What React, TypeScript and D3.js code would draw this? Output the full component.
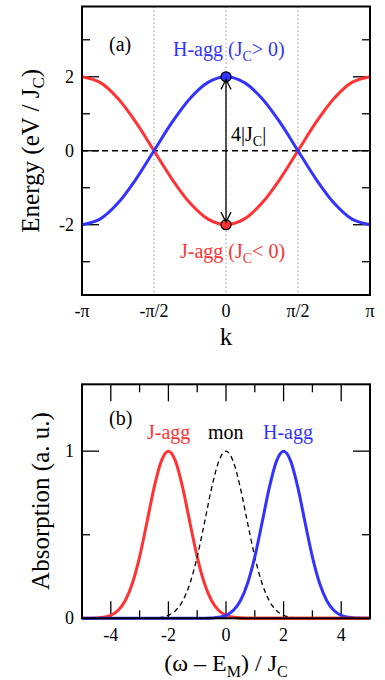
import React from "react";
import * as d3 from "d3";

// ---------- data ----------
const PI = Math.PI;
// k grid for the band plot (step π/8 from -π to π)
const kIndex = [-8, -7, -6, -5, -4, -3, -2, -1, 0, 1, 2, 3, 4, 5, 6, 7, 8];
const hBand = [-2, -1.848, -1.414, -0.765, 0, 0.765, 1.414, 1.848, 2, 1.848, 1.414, 0.765, 0, -0.765, -1.414, -1.848, -2];
const jBand = [2, 1.848, 1.414, 0.765, 0, -0.765, -1.414, -1.848, -2, -1.848, -1.414, -0.765, 0, 0.765, 1.414, 1.848, 2];
const kTickIndex = [-2, -1, 0, 1, 2]; // multiples of π/2
const kTickLabels = ["-π", "-π/2", "0", "π/2", "π"];
const eMajorTicks = [-2, 0, 2];
const eMinorTicks = [-3, -1, 1, 3];

// absorption grid (step 0.25 from -5 to 5)
const wGrid = [
  -5, -4.75, -4.5, -4.25, -4, -3.75, -3.5, -3.25, -3, -2.75, -2.5, -2.25, -2, -1.75, -1.5, -1.25, -1, -0.75, -0.5, -0.25,
  0, 0.25, 0.5, 0.75, 1, 1.25, 1.5, 1.75, 2, 2.25, 2.5, 2.75, 3, 3.25, 3.5, 3.75, 4, 4.25, 4.5, 4.75, 5,
];
const jAbs = [
  0, 0.0005, 0.002, 0.006, 0.018, 0.047, 0.105, 0.21, 0.368, 0.57, 0.779, 0.939, 1, 0.939, 0.779, 0.57, 0.368, 0.21, 0.105, 0.047,
  0.018, 0.006, 0.002, 0.0005, 0, 0, 0, 0, 0, 0, 0, 0, 0, 0, 0, 0, 0, 0, 0, 0, 0,
];
const monAbs = [
  0, 0, 0, 0, 0, 0, 0, 0, 0.0001, 0.0005, 0.002, 0.006, 0.018, 0.047, 0.105, 0.21, 0.368, 0.57, 0.779, 0.939,
  1, 0.939, 0.779, 0.57, 0.368, 0.21, 0.105, 0.047, 0.018, 0.006, 0.002, 0.0005, 0.0001, 0, 0, 0, 0, 0, 0, 0, 0,
];
const hAbs = [
  0, 0, 0, 0, 0, 0, 0, 0, 0, 0, 0, 0, 0, 0, 0, 0, 0, 0.0005, 0.002, 0.006,
  0.018, 0.047, 0.105, 0.21, 0.368, 0.57, 0.779, 0.939, 1, 0.939, 0.779, 0.57, 0.368, 0.21, 0.105, 0.047, 0.018, 0.006, 0.002, 0.0005, 0,
];
const wMajorTicks = [-4, -2, 0, 2, 4];
const wMinorTicks = [-5, -3, -1, 1, 3, 5];
const aMajorTicks = [0, 1];
const aMinorTicks = [0.5];

const RED = "#ff3333";
const BLUE = "#3333ff";
const FONT = "'Liberation Serif', 'Times New Roman', serif";

export default function App() {
  const L = 82, R = 370;
  // panel (a)
  const xa = d3.scaleLinear().domain([-PI, PI]).range([L, R]);
  const ya = d3.scaleLinear().domain([-3.9, 3.9]).range([295, 6.5]);
  // panel (b)
  const xb = d3.scaleLinear().domain([-5, 5]).range([L, R]);
  const yb = d3.scaleLinear().domain([0, 1.4]).range([618.3, 384.3]);

  const bandPts = (vals: number[]) => kIndex.map((i, j) => [(i * PI) / 8, vals[j]] as [number, number]);
  const lineA = d3.line<[number, number]>().x(d => xa(d[0])).y(d => ya(d[1])).curve(d3.curveCatmullRom);
  const absPts = (vals: number[]) => wGrid.map((w, j) => [w, vals[j]] as [number, number]);
  const lineB = d3.line<[number, number]>().x(d => xb(d[0])).y(d => yb(d[1])).curve(d3.curveMonotoneX);

  const MAJ = 17, MIN = 8;
  const tickStroke = { stroke: "#000", strokeWidth: 1.3 };

  const yTicks = (y: d3.ScaleLinear<number, number>, vals: number[], len: number, key: string) =>
    vals.map(v => (
      <g key={key + v}>
        <line x1={L} x2={L + len} y1={y(v)} y2={y(v)} {...tickStroke} />
        <line x1={R} x2={R - len} y1={y(v)} y2={y(v)} {...tickStroke} />
      </g>
    ));
  const xTicks = (x: d3.ScaleLinear<number, number>, vals: number[], len: number, top: number, bottom: number, key: string) =>
    vals.map(v => (
      <g key={key + v}>
        <line x1={x(v)} x2={x(v)} y1={bottom} y2={bottom - len} {...tickStroke} />
        <line x1={x(v)} x2={x(v)} y1={top} y2={top + len} {...tickStroke} />
      </g>
    ));

  const jPtsRight = absPts(jAbs).filter(d => d[0] >= 0.25);

  return (
    <svg width={385} height={680} style={{ position: "absolute", left: 0, top: 0, background: "#fff" }} fontFamily={FONT}>
      {/* ===== panel (a) ===== */}
      {kTickIndex.slice(1, 4).map(i => (
        <line key={"vd" + i} x1={xa((i * PI) / 2)} x2={xa((i * PI) / 2)} y1={ya(3.9)} y2={ya(-3.9)}
          stroke="#999" strokeWidth={1} strokeDasharray="1.5,2.5" />
      ))}
      <line x1={L} x2={R} y1={ya(0)} y2={ya(0)} stroke="#000" strokeWidth={1.3} strokeDasharray="6,4" />
      {yTicks(ya, eMajorTicks, MAJ, "am")}
      {yTicks(ya, eMinorTicks, MIN, "an")}
      <path d={lineA(bandPts(jBand)) || ""} fill="none" stroke={RED} strokeWidth={3} />
      <path d={lineA(bandPts(hBand)) || ""} fill="none" stroke={BLUE} strokeWidth={3} />
      <circle cx={xa(0)} cy={ya(2)} r={5} fill={BLUE} stroke="#000" strokeWidth={1.2} />
      <circle cx={xa(0)} cy={ya(-2)} r={5} fill={RED} stroke="#000" strokeWidth={1.2} />
      {/* double arrow */}
      <line x1={xa(0)} x2={xa(0)} y1={ya(1.93)} y2={ya(-1.93)} stroke="#000" strokeWidth={1.3} />
      <path d={`M${xa(0) - 5},${ya(1.93) + 10} L${xa(0)},${ya(1.93)} L${xa(0) + 5},${ya(1.93) + 10}`} fill="none" stroke="#000" strokeWidth={1.3} />
      <path d={`M${xa(0) - 5},${ya(-1.93) - 10} L${xa(0)},${ya(-1.93)} L${xa(0) + 5},${ya(-1.93) - 10}`} fill="none" stroke="#000" strokeWidth={1.3} />
      <rect x={L} y={ya(3.9)} width={R - L} height={ya(-3.9) - ya(3.9)} fill="none" stroke="#000" strokeWidth={2} />

      {eMajorTicks.map(v => (
        <text key={"ayl" + v} x={74} y={ya(v) + 6} fontSize={18} textAnchor="end">{v}</text>
      ))}
      {kTickIndex.map((i, j) => (
        <text key={"axl" + i} x={xa((i * PI) / 2)} y={317} fontSize={18} textAnchor="middle">{kTickLabels[j]}</text>
      ))}
      <text x={xa(0)} y={345} fontSize={25} textAnchor="middle">k</text>
      <text transform={`translate(39,${ya(0)}) rotate(-90)`} fontSize={25} textAnchor="middle">
        Energy (eV / J<tspan dy={5} fontSize={17}>C</tspan><tspan dy={-5}>)</tspan>
      </text>
      <text x={109} y={51} fontSize={20}>(a)</text>
      <text x={173} y={56} fontSize={20} fill={BLUE}>
        H-agg (J<tspan dy={5} fontSize={14}>C</tspan><tspan dy={-5}>&gt; 0)</tspan>
      </text>
      <text x={180} y={258} fontSize={20} fill={RED}>
        J-agg (J<tspan dy={5} fontSize={14}>C</tspan><tspan dy={-5}>&lt; 0)</tspan>
      </text>
      <text x={231} y={141} fontSize={20}>
        4|J<tspan dy={5} fontSize={14}>C</tspan><tspan dy={-5}>|</tspan>
      </text>

      {/* ===== panel (b) ===== */}
      {xTicks(xb, wMajorTicks, MAJ, yb(1.4), yb(0), "bxm")}
      {xTicks(xb, wMinorTicks, MIN, yb(1.4), yb(0), "bxn")}
      {yTicks(yb, aMajorTicks, MAJ, "bym")}
      {yTicks(yb, aMinorTicks, MIN, "byn")}
      <path d={lineB(absPts(jAbs)) || ""} fill="none" stroke={RED} strokeWidth={3} />
      <path d={lineB(absPts(monAbs)) || ""} fill="none" stroke="#000" strokeWidth={1.3} strokeDasharray="5,3.5" />
      <path d={lineB(absPts(hAbs)) || ""} fill="none" stroke={BLUE} strokeWidth={3} />
      <path d={lineB(jPtsRight) || ""} fill="none" stroke={RED} strokeWidth={3} />
      <rect x={L} y={yb(1.4)} width={R - L} height={yb(0) - yb(1.4)} fill="none" stroke="#000" strokeWidth={2} />

      {aMajorTicks.map(v => (
        <text key={"byl" + v} x={74} y={yb(v) + 6} fontSize={18} textAnchor="end">{v}</text>
      ))}
      {wMajorTicks.map(v => (
        <text key={"bxl" + v} x={xb(v)} y={641} fontSize={18} textAnchor="middle">{v}</text>
      ))}
      <text x={xb(0)} y={671} fontSize={24} textAnchor="middle">
        (ω – E<tspan dy={6} fontSize={16}>M</tspan><tspan dy={-6}>) / J</tspan><tspan dy={6} fontSize={16}>C</tspan>
      </text>
      <text transform={`translate(49,501) rotate(-90)`} fontSize={25} textAnchor="middle">Absorption (a. u.)</text>
      <text x={109} y={425} fontSize={20}>(b)</text>
      <text x={147} y={439} fontSize={20} fill={RED}>J-agg</text>
      <text x={208} y={439} fontSize={20}>mon</text>
      <text x={263} y={439} fontSize={20} fill={BLUE}>H-agg</text>
    </svg>
  );
}
